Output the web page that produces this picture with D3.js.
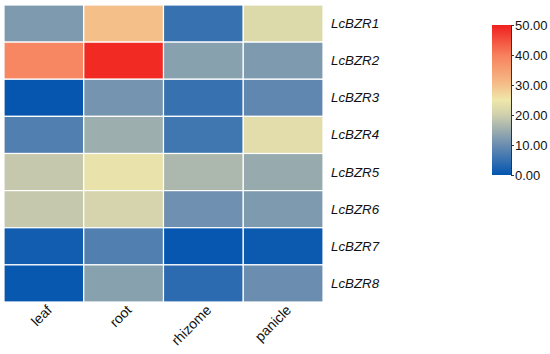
<!DOCTYPE html>
<html>
<head>
<meta charset="utf-8">
<script src="https://cdn.jsdelivr.net/npm/d3@7"></script>
<style>
  html, body { margin: 0; padding: 0; background: #fff; }
  svg { display: block; font-family: "Liberation Sans", Arial, sans-serif; }
</style>
</head>
<body>
<svg id="chart" width="550" height="354"></svg>
<script>
const tissues = ["leaf", "root", "rhizome", "panicle"];
const genes = ["LcBZR1", "LcBZR2", "LcBZR3", "LcBZR4", "LcBZR5", "LcBZR6", "LcBZR7", "LcBZR8"];
const leafValues    = [12, 39, 0.2, 7.5, 19, 19, 1.5, 0.5];
const rootValues    = [30, 49, 11, 15, 24, 21, 7.5, 13];
const rhizomeValues = [5, 13, 5, 6, 16.5, 10.5, 0.3, 4];
const panicleValues = [22, 12, 9, 23, 14.5, 12, 0.8, 10];
const legendTicks = [0, 10, 20, 30, 40, 50];
const colorStops = [0, 10, 20, 25, 30, 40, 50];
const colorRange = ["#0455b0", "#6a8db0", "#cfcfac", "#efe7aa", "#f5bf8a", "#f7805e", "#f0201e"];

const seriesByTissue = [leafValues, rootValues, rhizomeValues, panicleValues];
const cells = [];
genes.forEach((g, i) => tissues.forEach((t, j) => cells.push({gene: g, tissue: t, value: seriesByTissue[j][i]})));

const svg = d3.select("#chart");
const color = d3.scaleLinear().domain(colorStops).range(colorRange).interpolate(d3.interpolateRgb);

const x = d3.scaleBand().domain(tissues).range([4, 323]).padding(0);
const y = d3.scaleBand().domain(genes).range([5, 302]).padding(0);

svg.append("g").selectAll("rect").data(cells).join("rect")
  .attr("x", d => x(d.tissue))
  .attr("y", d => y(d.gene))
  .attr("width", x.bandwidth())
  .attr("height", y.bandwidth())
  .attr("fill", d => color(d.value))
  .attr("stroke", "#fff")
  .attr("stroke-width", 1.2);

// row labels
svg.append("g").selectAll("text").data(genes).join("text")
  .attr("x", 331)
  .attr("y", d => y(d) + y.bandwidth() / 2 + 4.5)
  .attr("font-size", 13.3)
  .attr("font-style", "italic")
  .attr("fill", "#111")
  .text(d => d);

// column labels
svg.append("g").selectAll("text").data(tissues).join("text")
  .attr("transform", d => `translate(${x(d) + x.bandwidth() / 2 + 9},${311}) rotate(-45)`)
  .attr("text-anchor", "end")
  .attr("font-size", 14)
  .attr("fill", "#111")
  .text(d => d);

// legend
const lx = 492, lw = 19, ly0 = 25, ly1 = 175;
const defs = svg.append("defs");
const grad = defs.append("linearGradient").attr("id", "lg").attr("x1", 0).attr("y1", 1).attr("x2", 0).attr("y2", 0);
grad.selectAll("stop").data(colorStops).join("stop")
  .attr("offset", d => d / 50)
  .attr("stop-color", d => color(d));
svg.append("rect").attr("x", lx).attr("y", ly0).attr("width", lw).attr("height", ly1 - ly0).attr("fill", "url(#lg)");

const ly = d3.scaleLinear().domain([0, 50]).range([ly1, ly0]);
const axis = d3.axisRight(ly).tickValues(legendTicks).tickFormat(d3.format(".2f")).tickSize(3).tickPadding(1);
const ag = svg.append("g").attr("transform", `translate(${lx + lw},0)`).call(axis);
ag.select(".domain").attr("stroke", "#333").attr("stroke-width", 1);
ag.selectAll(".tick line").attr("stroke", "#333");
ag.selectAll(".tick text").attr("font-size", 13).attr("fill", "#111").attr("font-family", '"Liberation Sans", Arial, sans-serif');
</script>
</body>
</html>
